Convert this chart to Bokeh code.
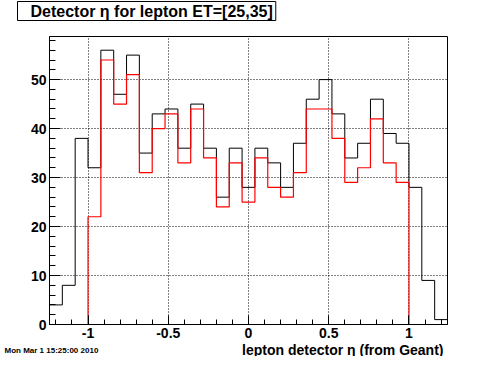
import numpy as np
from bokeh.plotting import figure
from bokeh.models import Label, SingleIntervalTicker, NumeralTickFormatter, Range1d
from bokeh.embed import file_html
from bokeh.resources import INLINE

# ---- data ----
eta_lo = -1.24
eta_hi = 1.24
n_bins = 31
all_counts = [4, 8, 38, 32, 56, 47, 55, 35, 43, 44, 36, 45, 36, 26, 36, 28,
              36, 33, 28, 37, 46, 50, 43, 34, 37, 46, 39, 37, 28, 9, 1]
sel_counts = [0, 0, 0, 22, 54, 45, 51, 31, 40, 43, 33, 44, 34, 24, 33, 25,
              34, 28, 26, 31, 44, 44, 38, 29, 32, 42, 33, 29, 0, 0, 0]
title_text = "Detector \u03b7 for lepton ET=[25,35]"
xaxis_title = "lepton detector \u03b7 (from Geant)"
date_text = "Mon Mar  1 15:25:00 2010"

edges = np.linspace(eta_lo, eta_hi, n_bins + 1)


def stairs(edges, counts):
    xs = [edges[0]]
    ys = [0]
    for i, c in enumerate(counts):
        xs += [edges[i], edges[i + 1]]
        ys += [c, c]
    xs.append(edges[-1])
    ys.append(0)
    return xs, ys


W, H = 480, 356
ymax = max(all_counts) * 1.05
FONT = "Liberation Sans"

p = figure(width=W, height=H, output_backend="svg", toolbar_location=None,
           x_range=Range1d(eta_lo, eta_hi), y_range=Range1d(0, ymax),
           min_border_left=49, min_border_right=33, min_border_top=36,
           min_border_bottom=31, background_fill_color="white",
           border_fill_color="white")
p.outline_line_color = "black"
p.outline_line_width = 1

p.xaxis.ticker = SingleIntervalTicker(interval=0.5, num_minor_ticks=5)
p.yaxis.ticker = SingleIntervalTicker(interval=10, num_minor_ticks=5)
p.xaxis.formatter = NumeralTickFormatter(format="0.[0]")
for ax in (p.xaxis, p.yaxis):
    ax.axis_line_color = "black"
    ax.major_tick_out = 0
    ax.minor_tick_out = 0
    ax.major_tick_line_color = "black"
    ax.minor_tick_line_color = "black"
    ax.major_label_text_font = FONT
    ax.major_label_text_font_style = "bold"
    ax.major_label_text_font_size = "14px"
    ax.major_label_text_color = "black"
p.yaxis.major_tick_in = 11
p.yaxis.minor_tick_in = 6
p.xaxis.major_tick_in = 9
p.xaxis.minor_tick_in = 5
p.yaxis.major_label_standoff = 3
p.xaxis.major_label_standoff = 3

for g in (p.xgrid, p.ygrid):
    g.grid_line_color = "black"
    g.grid_line_dash = "1 2"
    g.grid_line_width = 1
p.xgrid.ticker = SingleIntervalTicker(interval=0.5)
p.ygrid.ticker = SingleIntervalTicker(interval=10)

bx, by = stairs(edges, all_counts)
rx, ry = stairs(edges, sel_counts)
p.line(bx, by, line_color="black", line_width=1)
p.line(rx, ry, line_color="#ff0000", line_width=1.2)

# texts outside the frame: placed in side panels, positioned in canvas pixels
p.add_layout(Label(x=17, y=1, x_units="canvas", y_units="canvas",
                   text=title_text, text_font=FONT, text_font_style="bold",
                   text_font_size="16px", text_color="black",
                   text_baseline="top", text_align="left",
                   padding=(13, 3, 1, 1),
                   background_fill_color="white",
                   border_line_color="black", border_line_width=1), "above")

p.add_layout(Label(x=4, y=350, x_units="canvas", y_units="canvas",
                   text=date_text, text_font=FONT, text_font_style="bold",
                   text_font_size="8px", text_color="black",
                   text_baseline="alphabetic", text_align="left"), "above")

p.add_layout(Label(x=443, y=349, x_units="canvas", y_units="canvas",
                   text=xaxis_title, text_font=FONT, text_font_style="bold",
                   text_font_size="14px", text_color="black",
                   text_baseline="alphabetic", text_align="right"), "below")

open("out.html", "w").write(file_html(p, INLINE))
